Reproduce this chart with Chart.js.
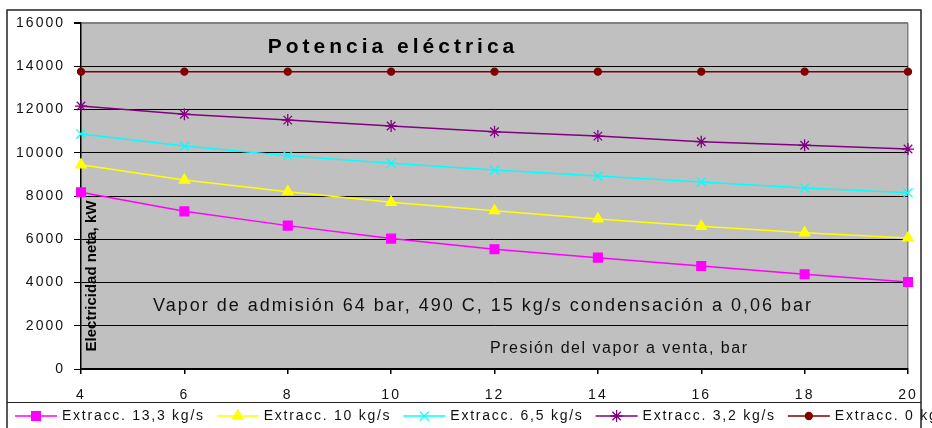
<!DOCTYPE html>
<html>
<head>
<meta charset="utf-8">
<script src="https://cdn.jsdelivr.net/npm/chart.js@4/dist/chart.umd.min.js"></script>
<style>
  html, body { margin: 0; padding: 0; background: #fff; }
  #wrap { width: 932px; height: 428px; }
</style>
</head>
<body>
<div id="wrap"><canvas id="potChart" width="932" height="428"></canvas></div>
<script>
// presion del vapor a venta, bar
const pressures = ['4', '6', '8', '10', '12', '14', '16', '18', '20'];

// electricidad neta, kW
const extr133 = [8170, 7290, 6630, 6030, 5540, 5150, 4760, 4380, 4020];
const extr10  = [9440, 8740, 8200, 7710, 7320, 6940, 6600, 6300, 6060];
const extr65  = [10870, 10310, 9860, 9510, 9200, 8920, 8650, 8370, 8150];
const extr32  = [12160, 11780, 11510, 11240, 10970, 10770, 10510, 10350, 10170];
const extr0   = [13750, 13750, 13750, 13750, 13750, 13750, 13750, 13750, 13750];

const seriesNames = ['Extracc. 13,3 kg/s', 'Extracc. 10 kg/s', 'Extracc. 6,5 kg/s', 'Extracc. 3,2 kg/s', 'Extracc. 0 kg/s'];
const yTicks = [0, 2000, 4000, 6000, 8000, 10000, 12000, 14000, 16000];

const chartTitle = 'Potencia eléctrica';
const noteText = 'Vapor de admisión 64 bar, 490 C, 15 kg/s condensación a 0,06 bar';
const xTitle = 'Presión del vapor a venta, bar';
const yTitle = 'Electricidad neta, kW';

const FONT = "'Liberation Sans', Arial, sans-serif";

function makeSet(label, data, color, style, radius) {
    return {
        label: label,
        data: data,
        borderColor: color,
        backgroundColor: color,
        pointBackgroundColor: color,
        pointBorderColor: color,
        borderWidth: 1.5,
        pointStyle: style,
        pointRadius: radius,
        pointHoverRadius: radius,
        pointBorderWidth: 1.3,
        tension: 0,
        clip: false
    };
}

const datasets = [
    makeSet(seriesNames[0], extr133, '#ff00ff', 'rect', 6.2),
    makeSet(seriesNames[1], extr10, '#ffff00', 'triangle', 6),
    makeSet(seriesNames[2], extr65, '#00ffff', 'crossRot', 6.5),
    makeSet(seriesNames[3], extr32, '#800080', 'star', 6),
    makeSet(seriesNames[4], extr0, '#800000', 'circle', 3.5)
];

// background, frame and the texts inside the plot
const decor = {
    id: 'decor',
    beforeDraw(chart) {
        const ctx = chart.ctx;
        const a = chart.chartArea;
        ctx.save();
        ctx.fillStyle = '#c0c0c0';
        ctx.fillRect(a.left, a.top, a.right - a.left, a.bottom - a.top);
        ctx.restore();
        // spacing used by the tick labels
        ctx.letterSpacing = '2px';
    },
    afterDraw(chart) {
        const ctx = chart.ctx;
        const a = chart.chartArea;
        ctx.save();
        ctx.fillStyle = '#000';
        ctx.textBaseline = 'middle';

        ctx.font = 'bold 21px ' + FONT;
        ctx.letterSpacing = '4px';
        ctx.textAlign = 'center';
        ctx.fillText(chartTitle, 393, 47);

        ctx.font = '18px ' + FONT;
        ctx.letterSpacing = '2px';
        ctx.textAlign = 'left';
        ctx.fillStyle = '#111';
        ctx.fillText(noteText, 153, 306);

        ctx.font = '16px ' + FONT;
        ctx.letterSpacing = '1.5px';
        ctx.fillText(xTitle, 490, 349);

        ctx.save();
        ctx.translate(a.left + 11, 276);
        ctx.rotate(-Math.PI / 2);
        ctx.font = 'bold 15px ' + FONT;
        ctx.letterSpacing = '0px';
        ctx.textAlign = 'center';
        ctx.fillStyle = '#000';
        ctx.fillText(yTitle, 0, 0);
        ctx.restore();

        // outer frame and legend separator
        ctx.strokeStyle = '#222';
        ctx.lineWidth = 1.5;
        ctx.strokeRect(7, 10, 914, 430);
        ctx.lineWidth = 1;
        ctx.beginPath();
        ctx.moveTo(7, 402.5);
        ctx.lineTo(921, 402.5);
        ctx.stroke();

        // legend: line with marker, then name
        ctx.font = '14px ' + FONT;
        ctx.letterSpacing = '1.75px';
        ctx.textAlign = 'left';
        let x = 15;
        const y = 416;
        chart.data.datasets.forEach(ds => {
            ctx.strokeStyle = ds.borderColor;
            ctx.lineWidth = 1.5;
            ctx.beginPath();
            ctx.moveTo(x, y);
            ctx.lineTo(x + 42, y);
            ctx.stroke();
            ctx.fillStyle = ds.pointBackgroundColor;
            ctx.lineWidth = ds.pointBorderWidth;
            Chart.helpers.drawPoint(ctx, {
                pointStyle: ds.pointStyle,
                radius: ds.pointRadius,
                rotation: 0,
                borderWidth: ds.pointBorderWidth
            }, x + 21, y);
            ctx.fillStyle = '#111';
            ctx.fillText(ds.label, x + 47, y);
            x += 47 + ctx.measureText(ds.label).width + 12;
        });
        ctx.restore();
    }
};

new Chart(document.getElementById('potChart'), {
    type: 'line',
    data: {
        labels: pressures,
        datasets: datasets
    },
    options: {
        responsive: false,
        animation: false,
        events: [],
        layout: { padding: { left: 0, top: 23, right: 24, bottom: 0 } },
        plugins: {
            legend: { display: false },
            tooltip: { enabled: false }
        },
        scales: {
            x: {
                type: 'category',
                offset: false,
                afterFit(scale) { scale.height = 59; },
                grid: {
                    offset: false,
                    color: ctx => ctx.index === pressures.length - 1 ? '#808080' : 'rgba(0,0,0,0)',
                    tickColor: '#000',
                    tickLength: 5,
                    lineWidth: 1.5
                },
                border: { color: '#000', width: 1.5 },
                ticks: {
                    color: '#111',
                    font: { family: FONT, size: 14 },
                    padding: 13,
                    maxRotation: 0,
                    autoSkip: false
                }
            },
            y: {
                min: 0,
                max: 16000,
                afterFit(scale) { scale.width = 81; },
                afterBuildTicks(scale) { scale.ticks = yTicks.map(v => ({ value: v })); },
                grid: {
                    color: ctx => ctx.tick && ctx.tick.value === 16000 ? '#808080' : '#000',
                    lineWidth: ctx => ctx.tick && ctx.tick.value === 16000 ? 2 : 1,
                    tickColor: '#000',
                    tickLength: 7
                },
                border: { color: '#000', width: 1.5 },
                ticks: {
                    color: '#111',
                    font: { family: FONT, size: 14 },
                    padding: 9,
                    callback: v => String(v)
                }
            }
        }
    },
    plugins: [decor]
});
</script>
</body>
</html>
